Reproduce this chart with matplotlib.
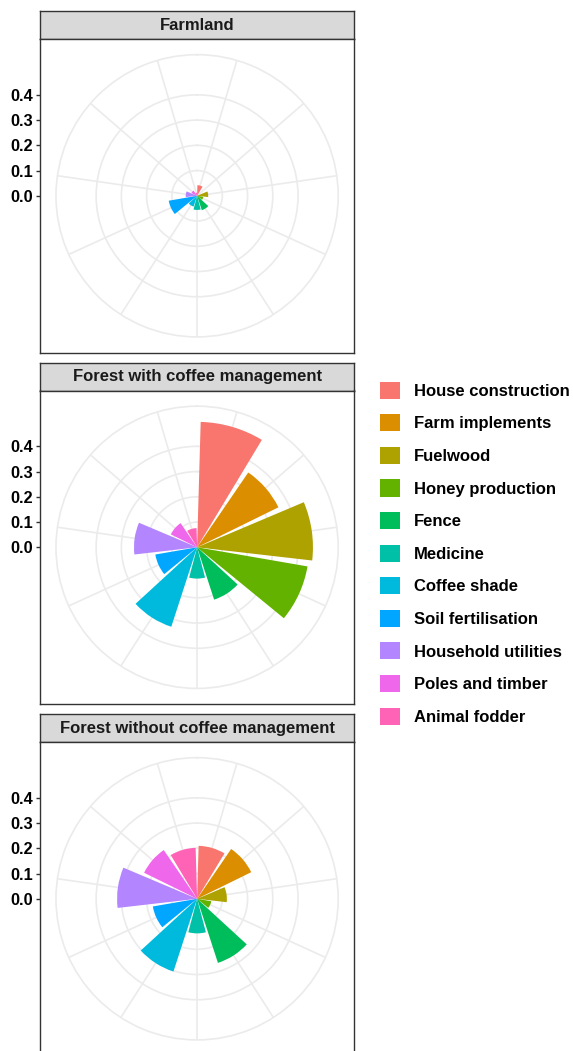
import matplotlib
matplotlib.use("Agg")
import matplotlib.pyplot as plt
import numpy as np
from matplotlib.patches import Patch

categories = ["House construction", "Farm implements", "Fuelwood", "Honey production",
              "Fence", "Medicine", "Coffee shade", "Soil fertilisation",
              "Household utilities", "Poles and timber", "Animal fodder"]
colors = ["#F8766D", "#DB8E00", "#AEA200", "#64B200", "#00BD5C", "#00C1A7",
          "#00BADE", "#00A6FF", "#B385FF", "#EF67EB", "#FF63B6"]

facets = ["Farmland", "Forest with coffee management", "Forest without coffee management"]
farmland = [0.042, 0.006, 0.044, 0.025, 0.060, 0.056, 0.045, 0.114, 0.045, 0.025, 0.012]
with_coffee = [0.497, 0.359, 0.459, 0.444, 0.218, 0.124, 0.331, 0.168, 0.250, 0.116, 0.076]
without_coffee = [0.210, 0.239, 0.118, 0.057, 0.267, 0.137, 0.303, 0.178, 0.317, 0.234, 0.202]
r_ticks = [0.0, 0.1, 0.2, 0.3, 0.4]

plt.rcParams["font.family"] = ["Liberation Sans", "DejaVu Sans"]

W, H, DPI = 573, 1051, 100
fig = plt.figure(figsize=(W / DPI, H / DPI), dpi=DPI)

PANEL_LEFT = 40.3
PANEL = 313.6
STRIP = 28
GRID = "#EBEBEB"
DARK = "#333333"


def px_rect(left, top, width, height):
    return [left / W, 1 - (top + height) / H, width / W, height / H]


def draw_panel(title, values, strip_top, rmax):
    panel_top = strip_top + STRIP

    # strip on top of the panel
    sax = fig.add_axes(px_rect(PANEL_LEFT, strip_top, PANEL, STRIP))
    sax.set_facecolor("#D9D9D9")
    sax.set_xticks([])
    sax.set_yticks([])
    for sp in sax.spines.values():
        sp.set_color(DARK)
        sp.set_linewidth(1.0)
    sax.text(0.5, 0.5, title, ha="center", va="center", fontsize=12,
             fontweight="bold", color="#1A1A1A", transform=sax.transAxes)

    # square panel, y axis shows the radius measured from the centre
    lim = rmax * 0.5 / 0.4
    pax = fig.add_axes(px_rect(PANEL_LEFT, panel_top, PANEL, PANEL))
    pax.set_xlim(-lim, lim)
    pax.set_ylim(-lim, lim)
    pax.set_xticks([])
    pax.set_yticks(r_ticks)
    pax.set_yticklabels(["%.1f" % t for t in r_ticks], fontsize=11.7,
                        fontweight="bold", color="black")
    pax.tick_params(axis="y", length=3, width=1.0, color=DARK, pad=2.2)
    for sp in pax.spines.values():
        sp.set_color(DARK)
        sp.set_linewidth(1.0)

    # polar part: outer circle at 0.45 of the panel, data max at 0.4
    c = PANEL * 0.45
    cx = PANEL_LEFT + PANEL / 2
    cy = panel_top + PANEL / 2
    ax = fig.add_axes(px_rect(cx - c, cy - c, 2 * c, 2 * c), projection="polar")
    ax.set_facecolor("none")
    ax.set_theta_zero_location("N")
    ax.set_theta_direction(-1)
    n = len(categories)
    theta = 2 * np.pi * (np.arange(n) + 0.5) / n
    ax.bar(theta, values, width=0.9 * 2 * np.pi / n, bottom=0,
           color=colors, edgecolor="none", zorder=3)
    ax.set_ylim(0, rmax * 0.45 / 0.4)
    ax.set_xticks(theta)
    ax.set_xticklabels([])
    ax.set_yticks(r_ticks[1:])
    ax.set_yticklabels([])
    ax.grid(True, color=GRID, linewidth=1.2)
    ax.set_axisbelow(True)
    ax.spines["polar"].set_color(GRID)
    ax.spines["polar"].set_linewidth(1.2)
    ax.tick_params(length=0)
    return ax


rmax = max(max(farmland), max(with_coffee), max(without_coffee))
strip_tops = [11, 362.5, 714]
for title, vals, top in zip(facets, [farmland, with_coffee, without_coffee], strip_tops):
    draw_panel(title, vals, top, rmax)

handles = [Patch(facecolor=col, edgecolor="none", label=lab)
           for col, lab in zip(colors, categories)]
fig.legend(handles=handles, loc="upper left", bbox_to_anchor=(380 / W, 1 - 381.7 / H),
           frameon=False, prop={"weight": "bold", "size": 12},
           handlelength=1.2, handleheight=1.2, handletextpad=0.86,
           labelspacing=0.925, borderpad=0, borderaxespad=0)

fig.savefig("out.png", dpi=DPI)
